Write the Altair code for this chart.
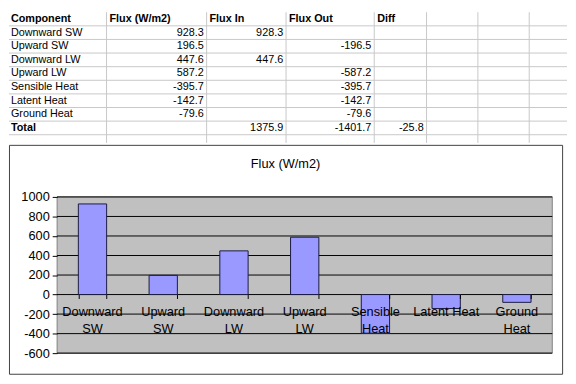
import altair as alt
import pandas as pd

# ---------------- data ----------------
components = ["Downward SW", "Upward SW", "Downward LW", "Upward LW",
              "Sensible Heat", "Latent Heat", "Ground Heat"]
axis_labels = ["Downward\nSW", "Upward\nSW", "Downward\nLW", "Upward\nLW",
               "Sensible\nHeat", "Latent Heat", "Ground\nHeat"]
flux = [928.3, 196.5, 447.6, 587.2, -395.7, -142.7, -79.6]
flux_in = [928.3, None, 447.6, None, None, None, None]
flux_out = [None, -196.5, None, -587.2, -395.7, -142.7, -79.6]
headers = ["Component", "Flux (W/m2)", "Flux In", "Flux Out", "Diff"]
total_label = "Total"
total_in = 1375.9
total_out = -1401.7
total_diff = -25.8
y_ticks = [-600, -400, -200, 0, 200, 400, 600, 800, 1000]
chart_title = "Flux (W/m2)"

# ---------------- layout ----------------
FONT = "Arial, Liberation Sans, sans-serif"
TW, TH = 568, 133                 # table panel
REF_W = 576                       # table x units
col_edges = [0, 100.7, 204, 286, 377, 431, 484, 537, 576]
N_ROWS_DOMAIN = 9.6
GRID = "#c8c8c8"

BW, BH = 563, 233                 # chart box panel
PX0, PX1 = 49, 553
PY0, PY1 = 53, 212

# ---------------- table cells ----------------
left_cells, bold_cells, right_cells = [], [], []
for j, h in enumerate(headers):
    bold_cells.append({"x": col_edges[j] + (2 if j == 0 else 3), "yc": 0.5, "t": h})
for i, name in enumerate(components):
    r = i + 1
    left_cells.append({"x": 2, "yc": r + 0.5, "t": name})
    for j, v in ((1, flux[i]), (2, flux_in[i]), (3, flux_out[i])):
        if v is not None:
            right_cells.append({"x": col_edges[j + 1] - 3, "yc": r + 0.5, "t": f"{v:.1f}"})
bold_cells.append({"x": 2, "yc": 8.5, "t": total_label})
for j, v in ((2, total_in), (3, total_out), (4, total_diff)):
    right_cells.append({"x": col_edges[j + 1] - 3, "yc": 8.5, "t": f"{v:.1f}"})

xs_t = alt.Scale(domain=[0, REF_W], range=[0, TW])
ys_t = alt.Scale(domain=[0, N_ROWS_DOMAIN], range=[0, TH])

hlines = alt.Chart(pd.DataFrame({"r": list(range(1, 10))})).mark_rule(
    color=GRID, strokeWidth=1).encode(
    y=alt.Y("r:Q", scale=ys_t, axis=None), x=alt.value(0), x2=alt.value(TW))
vlines = alt.Chart(pd.DataFrame({"c": col_edges[1:-1]})).mark_rule(
    color=GRID, strokeWidth=1).encode(
    x=alt.X("c:Q", scale=xs_t, axis=None), y=alt.value(0), y2=alt.value(TH))


def text_layer(cells, align, weight):
    return alt.Chart(pd.DataFrame(cells)).mark_text(
        align=align, baseline="middle", fontSize=11, font=FONT,
        fontWeight=weight, color="black").encode(
        x=alt.X("x:Q", scale=xs_t, axis=None),
        y=alt.Y("yc:Q", scale=ys_t, axis=None),
        text="t:N")


table = alt.layer(
    hlines, vlines,
    text_layer(left_cells, "left", "normal"),
    text_layer(bold_cells, "left", "bold"),
    text_layer(right_cells, "right", "normal"),
).properties(width=TW, height=TH, view=alt.ViewBackground(stroke=None))

# ---------------- bar chart ----------------
df = pd.DataFrame({"component": components, "flux": flux,
                   "label": axis_labels, "zero": [0] * len(components)})

xs_b = alt.Scale(domain=components, range=[PX0, PX1], paddingInner=0.6, paddingOuter=0.3)
ys_b = alt.Scale(domain=[-600, 1000], range=[PY1, PY0], nice=False, zero=False)
zero_px = PY1 - 600 / 1600 * (PY1 - PY0)

x_axis = alt.Axis(orient="bottom", offset=-(BH - zero_px), labels=False, title=None,
                  domain=False, grid=False, ticks=True, tickBand="extent",
                  tickSize=4, tickColor="black", tickWidth=1, zindex=2)
y_axis = alt.Axis(values=y_ticks, offset=-PX0, domain=False, grid=False, ticks=True,
                  tickSize=5, tickColor="black", tickWidth=1, labelFontSize=13,
                  labelFont=FONT, labelColor="black", labelPadding=3, title=None,
                  labelOverlap=False, labelExpr="'' + datum.value", zindex=2)

one = pd.DataFrame({"a": [0]})
plot_area = alt.Chart(one).mark_rect(fill="#c0c0c0", stroke="#808080", strokeWidth=1).encode(
    x=alt.value(PX0), x2=alt.value(PX1), y=alt.value(PY0), y2=alt.value(PY1))

gridlines = alt.Chart(pd.DataFrame({"v": y_ticks})).mark_rule(
    color="black", strokeWidth=1).encode(
    y=alt.Y("v:Q", scale=ys_b, axis=y_axis), x=alt.value(PX0), x2=alt.value(PX1))

bars = alt.Chart(df).mark_bar(fill="#9999ff", stroke="#1a1a40", strokeWidth=1).encode(
    x=alt.X("component:N", sort=components, scale=xs_b, axis=x_axis),
    y=alt.Y("flux:Q", scale=ys_b, axis=y_axis))

xlabels = alt.Chart(df).mark_text(
    baseline="top", align="center", fontSize=13, font=FONT, lineBreak="\n",
    lineHeight=17, dy=12, color="black").encode(
    x=alt.X("component:N", sort=components, scale=xs_b, axis=x_axis),
    y=alt.Y("zero:Q", scale=ys_b, axis=y_axis),
    text="label:N")

title = alt.Chart(one).mark_text(
    text=chart_title, fontSize=13, font=FONT, align="center",
    baseline="middle", color="black").encode(
    x=alt.value(BW / 2), y=alt.value(20))

box = alt.layer(plot_area, gridlines, bars, xlabels, title).properties(
    width=BW, height=BH,
    view=alt.ViewBackground(stroke="#404040", strokeWidth=1))

chart = alt.vconcat(table, box, spacing=0).properties(
    padding=0, background="white")

chart.save("out.html", embed_options={"renderer": "svg", "actions": False})
